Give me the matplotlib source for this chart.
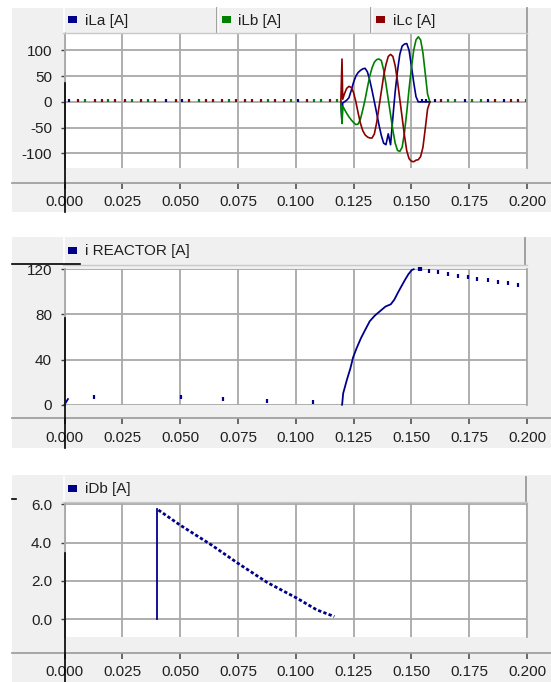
import matplotlib
matplotlib.use('Agg')
import matplotlib.pyplot as plt
import matplotlib.transforms as mtransforms
from matplotlib.patches import Rectangle
from matplotlib.lines import Line2D

plt.rcParams['font.family'] = ['Liberation Sans', 'DejaVu Sans']
plt.rcParams['axes.unicode_minus'] = False

# ---------------- data ----------------
t_ticks = [0.000, 0.025, 0.050, 0.075, 0.100, 0.125, 0.150, 0.175, 0.200]
t_labels = ['0.000', '0.025', '0.050', '0.075', '0.100', '0.125', '0.150', '0.175', '0.200']

# panel 1 : line currents iLa / iLb / iLc
t_fault = [0.1195, 0.1200, 0.1203, 0.121, 0.122, 0.123, 0.124, 0.125, 0.126, 0.127,
           0.128, 0.129, 0.130, 0.131, 0.132, 0.133, 0.134, 0.135, 0.136, 0.137,
           0.138, 0.139, 0.140, 0.141, 0.142, 0.143, 0.144, 0.145, 0.146, 0.147,
           0.148, 0.149, 0.150, 0.151, 0.152, 0.153, 0.154, 0.155, 0.156, 0.157, 0.158]
ila = [0, -40, -2, 0, 3, 8, 22, 38, 50, 57,
       61, 64, 65, 58, 42, 22, 0, -22, -45, -65,
       -80, -83, -62, -83, -30, 20, 60, 92, 108, 112,
       113, 100, 70, 38, 10, 0, 0, 0, 0, 0, 0]
ilb = [0, -42, -8, -14, -22, -29, -35, -40, -44, -43,
       -33, -15, 5, 28, 50, 66, 77, 82, 83, 80,
       62, 35, 5, -25, -55, -80, -94, -96, -88, -60,
       -20, 25, 65, 100, 120, 126, 120, 95, 55, 15, 0]
ilc = [0, 83, 5, 15, 26, 30, 28, 18, 0, -22,
       -42, -56, -64, -68, -70, -70, -62, -40, -10, 20,
       50, 72, 88, 92, 88, 70, 40, 5, -30, -65,
       -95, -110, -115, -116, -113, -112, -106, -88, -52, -14, 0]

# small residual dashes outside the fault window
ila_dash_t = [0.002, 0.044, 0.051, 0.101, 0.1545, 0.1565, 0.160, 0.173, 0.183, 0.190]
ilb_dash_t = [0.009, 0.019, 0.029, 0.036, 0.058, 0.071, 0.088, 0.098, 0.108, 0.111,
              0.118, 0.166, 0.169, 0.176, 0.180, 0.1995]
ilc_dash_t = [0.006, 0.013, 0.016, 0.022, 0.026, 0.033, 0.039, 0.048, 0.054, 0.061,
              0.064, 0.068, 0.074, 0.078, 0.081, 0.085, 0.091, 0.095, 0.105, 0.115,
              0.163, 0.186, 0.193, 0.196]
dash_low, dash_high = -1, 5

# panel 2 : i REACTOR
reactor_start_t = [0.0, 0.0015]
reactor_start_v = [0, 5]
reactor_dot_t = [0.0129, 0.0505, 0.0685, 0.0875, 0.1073]
reactor_dot_v = [6.5, 6.5, 5, 3.5, 2]
reactor_rise_t = [0.1200, 0.1201, 0.1205, 0.1221, 0.1236, 0.1248, 0.1263, 0.1282, 0.1297, 0.1320,
                  0.1342, 0.1365, 0.1388, 0.1411, 0.1426, 0.1441, 0.1457, 0.1472, 0.1487, 0.1502, 0.1510]
reactor_rise_v = [0, 1, 10, 22, 32, 42, 50, 59, 65, 74,
                  79, 83, 87, 89, 93, 99, 105, 110.5, 115.6, 119.4, 120]
reactor_tail_t = [0.1533, 0.1543, 0.1578, 0.1616, 0.1658, 0.1703, 0.1746, 0.1784, 0.1830, 0.1875, 0.1916, 0.1963]
reactor_tail_v = [120, 120, 118.5, 117.3, 115.9, 114.4, 113.2, 111.7, 110.3, 109, 107.9, 106.4]

# panel 3 : iDb
idb_step_t = [0.0402, 0.0402]
idb_step_v = [0.0, 5.75]
idb_decay_t = [0.0406, 0.0499, 0.0635, 0.0750, 0.0878, 0.1005, 0.1091, 0.1167]
idb_decay_v = [5.70, 4.92, 3.88, 2.92, 1.91, 1.10, 0.49, 0.14]

BLUE, GREEN, RED = '#00008b', '#008000', '#8b0000'
PANEL_BG = '#f0f0f0'
GRID = '#a8a8a8'

# ---------------- figure helpers (pixel layout) ----------------
W, H = 551, 682
fig = plt.figure(figsize=(W / 100, H / 100), dpi=100)
fig.patch.set_facecolor('white')


def fx(px):
    return px / W


def fy(py):
    return 1 - py / H


def add_rect(x0, y0, x1, y1, **kw):
    fig.patches.append(Rectangle((fx(x0), fy(y1)), fx(x1) - fx(x0), fy(y0) - fy(y1),
                                 transform=fig.transFigure, **kw))


def add_line(xs, ys, **kw):
    fig.lines.append(Line2D([fx(x) for x in xs], [fy(y) for y in ys],
                            transform=fig.transFigure, **kw))


PX0, PX1 = 64.5, 527


def make_panel(top, bottom, head_top, head_bot, plot_top, plot_bot, axis_y,
               ylim, yticks, ylabels, cells, cursor_top):
    add_rect(12, top, 551, bottom, facecolor=PANEL_BG, edgecolor='none', zorder=-10)
    # header cells with legend entries
    for x0, x1, label, color in cells:
        add_rect(x0, head_top, x1, head_bot, facecolor=PANEL_BG, edgecolor='none', zorder=-5)
        add_line([x0 + 1, x0 + 1], [head_top, head_bot], color='white', lw=1.2)
        add_line([x1, x1], [head_top, head_bot], color='#9a9a9a', lw=1.3)
        cy = (head_top + head_bot) / 2
        add_rect(x0 + 5, cy - 4.5, x0 + 14, cy + 2, facecolor=color, edgecolor='none')
        fig.text(fx(x0 + 22), fy(cy), label, fontsize=11, va='center', ha='left', color='#202020')
    add_line([PX0 - 2, PX1], [head_bot, head_bot], color='#c8c8c8', lw=1)

    ax = fig.add_axes([fx(PX0), fy(plot_bot), fx(PX1) - fx(PX0), fy(plot_top) - fy(plot_bot)])
    ax.set_facecolor('white')
    ax.set_xlim(0, 0.2)
    ax.set_ylim(*ylim)
    ax.set_xticks(t_ticks)
    ax.set_yticks(yticks)
    ax.set_yticklabels(ylabels)
    ax.grid(True, color=GRID, lw=1.3)
    ax.set_axisbelow(True)
    for side in ('top', 'bottom'):
        ax.spines[side].set_visible(False)
    for side in ('left', 'right'):
        ax.spines[side].set_color(GRID)
        ax.spines[side].set_linewidth(1.3)
    ax.tick_params(axis='x', bottom=False, labelbottom=False)
    ax.tick_params(axis='y', length=3, width=1, color='#404040', pad=6,
                   labelsize=11, labelcolor='#202020')

    # separate time axis below the plot
    tax = fig.add_axes([fx(PX0), fy(axis_y), fx(PX1) - fx(PX0), 0.0005])
    tax.patch.set_visible(False)
    for s in tax.spines.values():
        s.set_visible(False)
    tax.set_xlim(0, 0.2)
    tax.set_yticks([])
    tax.set_xticks(t_ticks)
    tax.set_xticklabels(t_labels)
    tax.tick_params(axis='x', direction='out', length=4.5, width=1.2, color='#505050',
                    pad=4.5, labelsize=11, labelcolor='#202020')
    add_line([12, 551], [axis_y, axis_y], color='#a0a0a0', lw=1.3)

    # cursor line at t = 0
    tr = mtransforms.blended_transform_factory(ax.transData, fig.transFigure)
    fig.lines.append(Line2D([0, 0], [fy(cursor_top), fy(bottom)], transform=tr,
                            color='black', lw=1.2, zorder=10))
    return ax


# panel 1
ax1 = make_panel(8, 212, 8, 33, 33, 168.3, 183,
                 (-128.7, 133.4), [-100, -50, 0, 50, 100], ['-100', '-50', '0', '50', '100'],
                 [(63, 216.5, 'iLa [A]', BLUE), (216.5, 371, 'iLb [A]', GREEN),
                  (371, 527, 'iLc [A]', RED)], 83)
ax1.vlines(ila_dash_t, dash_low, dash_high, colors=BLUE, lw=1.6)
ax1.vlines(ilb_dash_t, dash_low, dash_high, colors=GREEN, lw=1.6)
ax1.vlines(ilc_dash_t, dash_low, dash_high, colors=RED, lw=1.6)
ax1.plot(t_fault, ila, color=BLUE, lw=1.2)
ax1.plot(t_fault, ilb, color=GREEN, lw=1.2)
ax1.plot(t_fault, ilc, color=RED, lw=1.2)

# panel 2
ax2 = make_panel(237, 448, 238, 265, 269.3, 404.7, 418.3,
                 (0, 120), [0, 40, 80, 120], ['0', '40', '80', '120'],
                 [(63, 525, 'i REACTOR [A]', BLUE)], 318)
ax2.plot(reactor_start_t, reactor_start_v, color=BLUE, lw=1.3, clip_on=False)
ax2.plot(reactor_dot_t, reactor_dot_v, ls='none', marker='|', ms=3, mew=1.6, color=BLUE)
ax2.plot(reactor_rise_t, reactor_rise_v, color=BLUE, lw=1.3, clip_on=False)
ax2.plot(reactor_tail_t, reactor_tail_v, ls='none', marker='|', ms=3, mew=1.6, color=BLUE,
         clip_on=False)
add_line([12, 80], [264, 264], color='black', lw=1.2)

# panel 3
ax3 = make_panel(475, 682, 477, 502, 503.3, 636.7, 652.7,
                 (-0.91, 6.05), [0, 2, 4, 6], ['0.0', '2.0', '4.0', '6.0'],
                 [(63, 526, 'iDb [A]', BLUE)], 553)
ax3.plot(idb_step_t, idb_step_v, color=BLUE, lw=1.3)
ax3.plot(idb_decay_t, idb_decay_v, color=BLUE, lw=2, ls=(0, (1.2, 0.8)))
add_line([12, 16], [499, 499], color='black', lw=1.2)

fig.savefig('out.png', dpi=100)
